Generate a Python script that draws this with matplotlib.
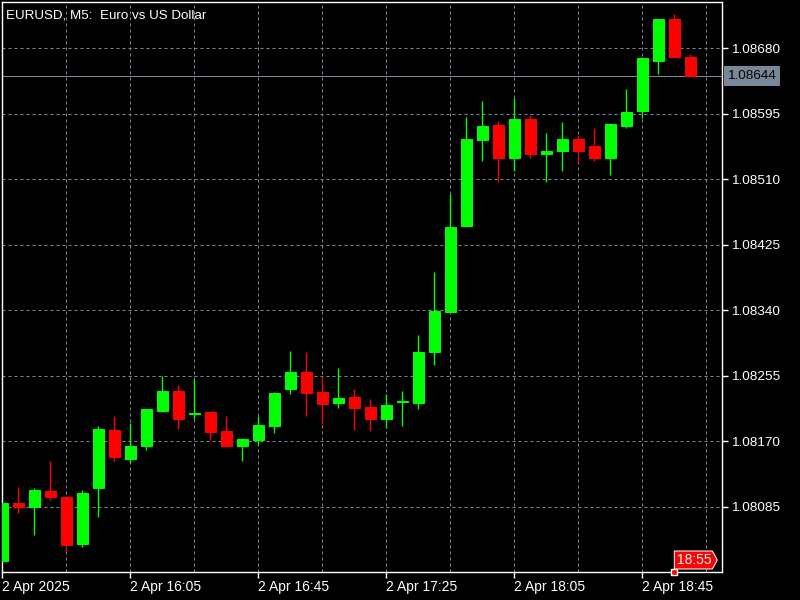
import numpy as np
import matplotlib.pyplot as plt
import matplotlib.transforms as mtransforms
from matplotlib.patches import Polygon

plt.rcParams['font.family'] = ['Liberation Sans', 'DejaVu Sans']

# EURUSD M5 bars, 2 Apr 2025 15:25 .. 19:00
opens = [1.08014, 1.08089, 1.08084, 1.08105, 1.08098, 1.08037, 1.08109, 1.08185,
         1.08147, 1.08163, 1.08209, 1.08235, 1.08205, 1.08208, 1.08183, 1.08164,
         1.08172, 1.08190, 1.08238, 1.08260, 1.08234, 1.08220, 1.08227, 1.08214,
         1.08198, 1.08221, 1.08220, 1.08285, 1.08338, 1.08449, 1.08561, 1.08580,
         1.08538, 1.08588, 1.08543, 1.08546, 1.08562, 1.08553, 1.08537, 1.08579,
         1.08598, 1.08664, 1.08718, 1.08669]
highs = [1.08089, 1.08110, 1.08109, 1.08144, 1.08099, 1.08107, 1.08190, 1.08202,
         1.08194, 1.08212, 1.08255, 1.08243, 1.08251, 1.08208, 1.08203, 1.08174,
         1.08203, 1.08234, 1.08287, 1.08285, 1.08255, 1.08265, 1.08238, 1.08224,
         1.08231, 1.08235, 1.08308, 1.08390, 1.08491, 1.08591, 1.08611, 1.08586,
         1.08615, 1.08593, 1.08570, 1.08584, 1.08567, 1.08577, 1.08583, 1.08627,
         1.08669, 1.08718, 1.08725, 1.08673]
lows = [1.08014, 1.08077, 1.08048, 1.08094, 1.08027, 1.08032, 1.08071, 1.08144,
        1.08142, 1.08159, 1.08208, 1.08186, 1.08199, 1.08172, 1.08164, 1.08144,
        1.08165, 1.08180, 1.08231, 1.08203, 1.08192, 1.08213, 1.08185, 1.08183,
        1.08187, 1.08189, 1.08211, 1.08269, 1.08338, 1.08449, 1.08533, 1.08506,
        1.08520, 1.08537, 1.08506, 1.08520, 1.08532, 1.08533, 1.08516, 1.08577,
        1.08590, 1.08647, 1.08667, 1.08642]
closes = [1.08089, 1.08084, 1.08107, 1.08097, 1.08035, 1.08103, 1.08186, 1.08149,
          1.08164, 1.08211, 1.08235, 1.08198, 1.08207, 1.08182, 1.08164, 1.08173,
          1.08191, 1.08233, 1.08260, 1.08233, 1.08218, 1.08226, 1.08213, 1.08198,
          1.08217, 1.08222, 1.08286, 1.08339, 1.08448, 1.08562, 1.08579, 1.08538,
          1.08588, 1.08543, 1.08547, 1.08562, 1.08547, 1.08537, 1.08582, 1.08597,
          1.08667, 1.08718, 1.08669, 1.08644]

time_tick_bars = [0, 8, 16, 24, 32, 40]
time_tick_labels = ['2 Apr 2025', '2 Apr 16:05', '2 Apr 16:45',
                    '2 Apr 17:25', '2 Apr 18:05', '2 Apr 18:45']
price_ticks = [1.08085, 1.08170, 1.08255, 1.08340, 1.08425, 1.08510, 1.08595, 1.08680]
last_price = 1.08644
marker_bar = 42
marker_label = '18:55'
title = 'EURUSD, M5:  Euro vs US Dollar'

grid_col = '#778899'
bull = '#00ff00'
bear = '#ff0000'
px = 0.72  # one pixel in points

fig = plt.figure(figsize=(8, 6), dpi=100, facecolor='black')
ax = fig.add_axes([2 / 800, 28 / 600, 720 / 800, 570 / 600])
ax.set_facecolor('black')

ylo, yhi = 1.08000, 1.08740
ax.set_xlim(-0.02, 44.98)
ax.set_ylim(ylo, yhi)

# grid
for b in range(4, 45, 4):
    ax.axvline(b, color=grid_col, lw=px, ls=(0, (3, 3)), zorder=1)
for p in price_ticks:
    ax.axhline(p, color=grid_col, lw=px, ls=(0, (3, 3)), zorder=1)

# current price line
ax.axhline(last_price, color=grid_col, lw=px, zorder=1.5)

# candles
o = np.array(opens)
h = np.array(highs)
l = np.array(lows)
c = np.array(closes)
x = np.arange(len(o))
cols = np.where(c >= o, bull, bear)
ax.vlines(x, l, h, colors=cols, lw=1.4 * px, zorder=2)
ax.bar(x, np.abs(c - o), bottom=np.minimum(o, c), width=0.68, color=cols,
       edgecolor=cols, linewidth=1.0 * px, zorder=3)

# frame
for s in ax.spines.values():
    s.set_color('white')
    s.set_linewidth(1.4 * px)

ax.yaxis.tick_right()
ax.set_yticks(price_ticks)
ax.set_yticklabels(['%.5f' % p for p in price_ticks])
ax.set_xticks(time_tick_bars)
ax.set_xticklabels(time_tick_labels)
for lab in ax.get_xticklabels():
    lab.set_ha('left')
ax.tick_params(axis='both', colors='white', labelcolor='white', labelsize=10,
               length=4, width=1.4 * px)
ax.tick_params(axis='y', pad=2.5, labelsize=9.7)
ax.tick_params(axis='x', pad=2)

ax.text(0.006, 0.977, title, transform=ax.transAxes, color='white',
        fontsize=9.6, ha='left', va='center')

# current price label
tr = mtransforms.blended_transform_factory(ax.transAxes, ax.transData)
ax.text(1.0075, last_price, '%.5f' % last_price, transform=tr, color='black',
        fontsize=9.7, ha='left', va='center', clip_on=False,
        bbox=dict(boxstyle='square,pad=0.28', fc=grid_col, ec='none'))

# time marker label
ax.plot(marker_bar, ylo, marker='s', ms=4, mfc=bear, mec='white', mew=1.0,
        clip_on=False, zorder=6)
fig.canvas.draw()
ax_x, ax_y = ax.transData.transform((marker_bar, ylo))
verts = [(0, 3), (38, 3), (43, 12), (38, 21), (0, 21)]
poly = Polygon([(ax_x + vx, ax_y + vy) for vx, vy in verts], closed=True,
               fc=bear, ec='white', lw=px, transform=mtransforms.IdentityTransform(),
               zorder=5)
fig.patches.append(poly)
poly.set_figure(fig)
fig.text((ax_x + 20) / 800, (ax_y + 12) / 600, marker_label, color='white',
         fontsize=10, ha='center', va='center', zorder=6)

fig.savefig('out.png', dpi=100, facecolor='black')
plt.close()
